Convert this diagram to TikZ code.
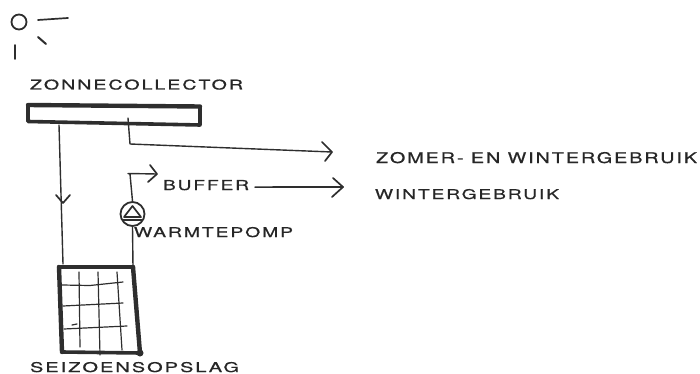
\documentclass[tikz,border=0pt]{standalone}
\usepackage{graphicx}
\usepackage{fontspec}
\setmainfont[LetterSpace=10,FakeBold=0.6]{TeX Gyre Heros}
\definecolor{ink}{HTML}{2E2E2E}
\tikzset{
  x=1pt,y=-1pt,
  thinline/.style={draw=ink,line width=1.4pt,line cap=round,line join=round},
  headline/.style={draw=ink,line width=1.7pt,line cap=round,line join=round},
  gridline/.style={draw=ink,line width=1.2pt,line cap=round},
  penline/.style={draw=ink,line width=3.6pt,line cap=round,line join=round},
  heavyline/.style={draw=ink,line width=4.4pt,line cap=round,line join=round},
  lab/.style={inner sep=0pt,outer sep=0pt,anchor=north west,text=black!85},
}
\begin{document}
\begin{tikzpicture}
\useasboundingbox (0,0) rectangle (700,374);
% sun
\node[circle,draw=ink,line width=1.8pt,minimum width=15pt,minimum height=13pt,inner sep=0pt] (sun) at (19,22) {};
\coordinate (r1a) at (38,20); \coordinate (r1b) at (68,18);
\coordinate (r2a) at (38,37); \coordinate (r2b) at (46,44);
\coordinate (r3a) at (15,45); \coordinate (r3b) at (15,59);
\draw[headline] (r1a)--(r1b);
\draw[headline,line width=2pt] (r2a)--(r2b);
\draw[headline] (r3a)--(r3b);
% labels
\node[lab] (zc) at (30,79.5) {\resizebox{213pt}{10pt}{ZONNECOLLECTOR}};
\node[lab] (buf) at (163,180) {\resizebox{86pt}{10pt}{BUFFER}};
\node[lab] (wp) at (134,227) {\resizebox{159pt}{10pt}{WARMTEPOMP}};
\node[lab] (so) at (30,362) {\resizebox{209pt}{10pt}{SEIZOENSOPSLAG}};
\node[lab] (zw) at (376,152) {\resizebox{321pt}{11pt}{ZOMER- EN WINTERGEBRUIK}};
\node[lab] (wg) at (375,189) {\resizebox{184pt}{10pt}{WINTERGEBRUIK}};
% collector
\coordinate (ca) at (28,105); \coordinate (cb) at (200,106.5);
\coordinate (cc) at (200,125); \coordinate (cd) at (28,121.5);
\draw[penline,line width=4.4pt] (ca)--(cb);
\draw[penline] (cb)--(cc)--(cd)--(ca);
% storage
\coordinate (sa) at (59,267); \coordinate (sb) at (133,267);
\coordinate (sc) at (140,353); \coordinate (sd) at (62,352);
\draw[heavyline] (sa)--(sb);
\draw[heavyline] (sb)--(sc);
\draw[penline] (sc)--(sd);
\draw[heavyline] (sd)--(sa);
\fill[ink] (sc) circle (3.5pt);
% grid
\draw[gridline] (79,272)--(80,347);
\draw[gridline] (98,272)--(100,355);
\draw[gridline] (117,272)--(122,350);
\draw[gridline] (62,285)--(90,285.5)--(123,282);
\draw[gridline] (63,306)--(123,303);
\draw[gridline] (64,329)--(127,326);
\draw[gridline] (72,325)--(77,324);
% collector down to storage
\coordinate (d1) at (59,125); \coordinate (d2) at (63,264);
\draw[thinline] (d1)--(d2);
\coordinate (dt) at (63,203);
\draw[headline] (56,195)--(dt)--(70,195);
% collector to summer/winter use
\coordinate (e0) at (128,118); \coordinate (e1) at (130,144); \coordinate (e2) at (332,152);
\draw[thinline] (e0)--(e1)--(e2);
\draw[headline] (322,142)--(e2)--(325,161);
% pump
\node[circle,draw=ink,line width=1.8pt,minimum size=24pt,inner sep=0pt] (pump) at (132.5,214) {};
\draw[thinline] (pump.north) -- (130,174) -- (128,173.5) -- (157,174);
\draw[headline] (150,165)--(157,174)--(148,182);
\draw[thinline] (pump.south)--(sb);
\draw[headline] (132.5,206)--(124,217)--(141,217)--cycle;
\draw[headline] (123,220)--(142,220);
% buffer to winter use
\coordinate (bt) at (343,187);
\draw[headline] (buf.east)++(6,2) -- (bt);
\draw[headline] (333,178)--(bt)--(332,197);
\end{tikzpicture}
\end{document}
